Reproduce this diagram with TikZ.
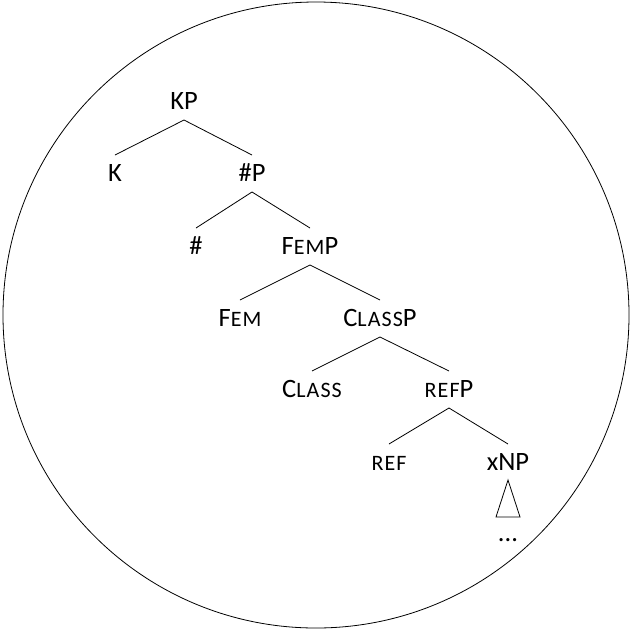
\documentclass[tikz,border=0pt]{standalone}
\usepackage{fontspec}
\setmainfont{Carlito}
\usetikzlibrary{calc}
\newcommand{\mysc}[1]{{\fontsize{22}{23}\selectfont\addfontfeature{LetterSpace=5}#1}}
\tikzset{
  lbl/.style={anchor=base, inner sep=0pt, font=\fontsize{26.5}{28}\selectfont},
  edge/.style={line width=0.8pt},
}
\begin{document}
\begin{tikzpicture}[x=1pt,y=-1pt]
\useasboundingbox (0,0) rectangle (631,630);
\draw[line width=0.8pt] (316,315) circle (313);
\node[lbl] (kp) at (184,109) {KP};
\node[lbl] (k) at (115,181) {K};
\node[lbl] (np) at (252,181) {\#P};
\node[lbl] (num) at (196,254) {\#};
\node[lbl] (femp) at (310,254) {F\mysc{EM}P};
\node[lbl] (fem) at (240,326) {F\mysc{EM}};
\node[lbl] (classp) at (380,326) {C\mysc{LASS}P};
\node[lbl] (class) at (312,397) {C\mysc{LASS}};
\node[lbl] (refp) at (449,397) {\mysc{REF}P};
\node[lbl] (ref) at (389,470) {\mysc{REF}};
\node[lbl] (xnp) at (508,470) {xNP};
\node[lbl] (dots) at (508,541) {...};
\foreach \p/\a/\b in {kp/k/np, np/num/femp, femp/fem/classp, classp/class/refp, refp/ref/xnp}{
  \draw[edge] ($(\a.base)+(0,-26)$) -- ($(\p.base)+(0,11)$) -- ($(\b.base)+(0,-26)$);
}
\draw[edge] ($(xnp.base)+(0,10)$) -- ($(xnp.base)+(-12,47)$) -- ($(xnp.base)+(12,47)$) -- cycle;
\end{tikzpicture}
\end{document}
